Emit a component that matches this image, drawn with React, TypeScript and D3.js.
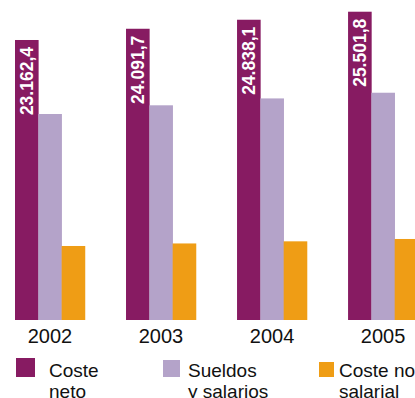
import React from "react";
import * as d3 from "d3";

const years = ["2002", "2003", "2004", "2005"];
const costeNeto = [23162.4, 24091.7, 24838.1, 25501.8];
const sueldos = [17040, 17760, 18330, 18800];
const costeNoSalarial = [6122, 6332, 6508, 6702];
const valueLabels = ["23.162,4", "24.091,7", "24.838,1", "25.501,8"];
const seriesNames = ["Coste neto", "Sueldos y salarios", "Coste no salarial"];
const legendLines = [["Coste", "neto"], ["Sueldos", "y salarios"], ["Coste no", "salarial"]];
const colors = ["#871B62", "#B4A3C9", "#EF9D15"];

const W = 415;
const H = 398;

export default function App() {
  const series = [costeNeto, sueldos, costeNoSalarial];
  const x0 = d3.scaleBand<string>().domain(years).range([15, 418]).paddingInner(0.37).paddingOuter(0);
  const x1 = d3.scaleBand<string>().domain(seriesNames).range([0, x0.bandwidth()]).padding(0);
  const y = d3.scaleLinear().domain([0, 26471]).range([320, 0]);
  const legendX = [16, 163, 319];
  const legendSq = [19, 17, 15];
  const legendTextX = [49, 188, 339];

  return (
    <svg width={W} height={H} style={{ position: "absolute", left: 0, top: 0, background: "#fff" }}>
      {years.map((yr, i) => (
        <g key={yr} transform={`translate(${x0(yr)},0)`}>
          {seriesNames.map((s, j) => (
            <rect
              key={s}
              x={x1(s)}
              y={y(series[j][i])}
              width={x1.bandwidth() + 0.3}
              height={y(0) - y(series[j][i])}
              fill={colors[j]}
            />
          ))}
          <text
            transform={`translate(${(x1(seriesNames[0]) as number) + x1.bandwidth() / 2 + 6.5},${y(costeNeto[i]) + 7}) rotate(-90)`}
            textAnchor="end"
            fill="#fff"
            fontFamily="'Liberation Sans', Arial, sans-serif"
            fontWeight="bold"
            fontSize={17.5}
          >
            {valueLabels[i]}
          </text>
          <text
            x={x0.bandwidth() / 2}
            y={343}
            textAnchor="middle"
            fill="#111"
            fontFamily="'Liberation Sans', Arial, sans-serif"
            fontSize={20}
          >
            {yr}
          </text>
        </g>
      ))}
      {seriesNames.map((s, j) => (
        <g key={s}>
          <rect x={legendX[j]} y={377 - legendSq[j]} width={legendSq[j]} height={legendSq[j]} fill={colors[j]} />
          <text
            x={legendTextX[j]}
            y={377}
            fill="#111"
            fontFamily="'Liberation Sans', Arial, sans-serif"
            fontSize={19}
          >
            <tspan x={legendTextX[j]} y={377}>{legendLines[j][0]}</tspan>
            <tspan x={legendTextX[j]} y={398}>{legendLines[j][1]}</tspan>
          </text>
        </g>
      ))}
    </svg>
  );
}
